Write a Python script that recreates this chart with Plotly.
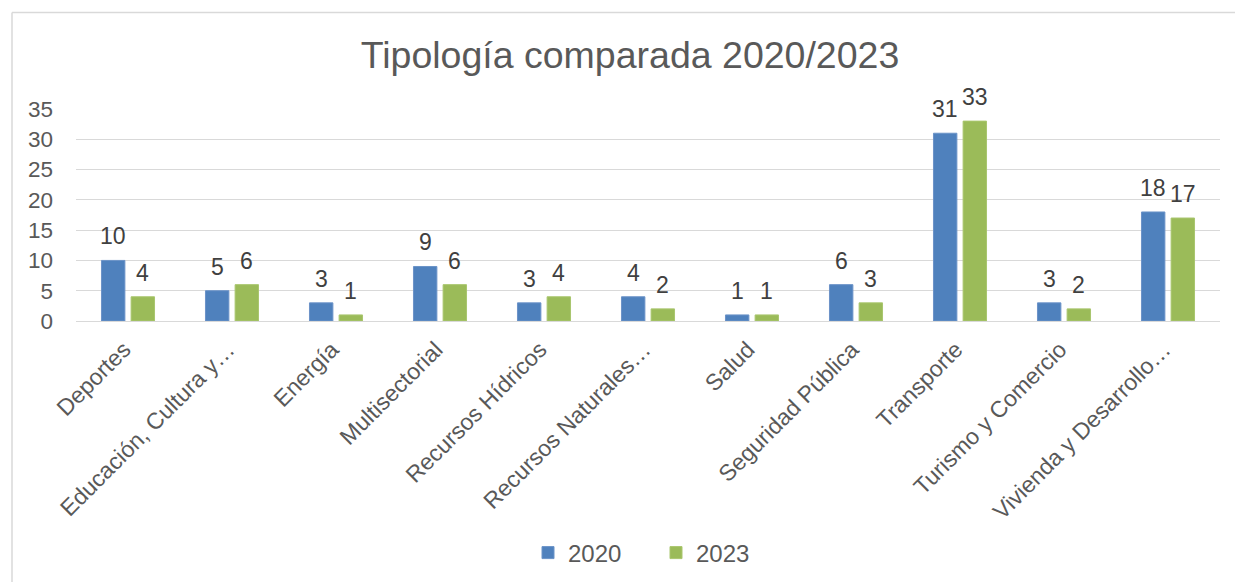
import plotly.graph_objects as go

categories = ["Deportes", "Educación, Cultura y…", "Energía", "Multisectorial",
              "Recursos Hídricos", "Recursos Naturales…", "Salud", "Seguridad Pública",
              "Transporte", "Turismo y Comercio", "Vivienda y Desarrollo…"]
values_2020 = [10, 5, 3, 9, 3, 4, 1, 6, 31, 3, 18]
values_2023 = [4, 6, 1, 6, 4, 2, 1, 3, 33, 2, 17]
y_ticks = [0, 5, 10, 15, 20, 25, 30, 35]

W, H = 1235, 582
ML, MR, MT, MB = 76, 15, 109, 261
FONT = "Liberation Sans, Arial, sans-serif"
TXT = "#595959"
BLUE = "#4F81BD"
GREEN = "#9BBB59"

fig = go.Figure()
fig.add_trace(go.Bar(x=categories, y=values_2020, name="2020",
                     marker=dict(color=BLUE, line=dict(color="#6b93c8", width=1))))
fig.add_trace(go.Bar(x=categories, y=values_2023, name="2023",
                     marker=dict(color=GREEN, line=dict(color="#a9c66e", width=1))))

# data labels
for vals, shift in ((values_2020, -14.8), (values_2023, 14.8)):
    for c, v in zip(categories, vals):
        fig.add_annotation(x=c, y=v, text=str(v), showarrow=False, xshift=shift,
                           yanchor="bottom", yshift=9,
                           font=dict(family=FONT, size=23, color="#404040"))

pw = W - ML - MR
ph = H - MT - MB
def px_x(p):
    return (p - ML) / pw
def px_y(p):
    return (H - MB - p) / ph

# chart border (left and top)
fig.add_shape(type="line", xref="paper", yref="paper",
              x0=px_x(12), x1=px_x(12), y0=px_y(12.5), y1=px_y(600),
              line=dict(color="#d9d9d9", width=1.5))
fig.add_shape(type="line", xref="paper", yref="paper",
              x0=px_x(12), x1=px_x(1260), y0=px_y(12.5), y1=px_y(12.5),
              line=dict(color="#d9d9d9", width=1.5))

fig.update_layout(
    width=W, height=H,
    margin=dict(l=ML, r=MR, t=MT, b=MB, autoexpand=False),
    paper_bgcolor="white", plot_bgcolor="white",
    barmode="group", bargap=0.43, bargroupgap=0.21,
    title=dict(text="Tipología comparada 2020/2023", x=630 / W, xref="container",
               xanchor="center", y=1 - 55 / H, yref="container", yanchor="middle",
               font=dict(family=FONT, size=37.5, color=TXT)),
    font=dict(family=FONT, color=TXT),
    legend=dict(orientation="h", x=0.5 + 8 / pw, xanchor="center", y=px_y(553),
                yanchor="middle",
                font=dict(family=FONT, size=24, color=TXT), entrywidth=83,
                itemwidth=30),
    showlegend=True,
)
fig.update_xaxes(tickangle=-45, tickfont=dict(family=FONT, size=23, color=TXT),
                 showline=True, linecolor="#d9d9d9", linewidth=1, ticks="",
                 showgrid=False, automargin=False,
                 ticklabelstandoff=5, ticklabelshift=-4)
fig.update_yaxes(range=[0, 35], tickvals=y_ticks, showgrid=True, gridcolor="#d9d9d9",
                 gridwidth=1, zeroline=False, showline=False, ticks="",
                 ticklabelstandoff=22, automargin=False,
                 tickfont=dict(family=FONT, size=22.5, color=TXT))

fig.write_html("out.html", config={"displayModeBar": False},
               post_script="document.body.style.margin='0';")
